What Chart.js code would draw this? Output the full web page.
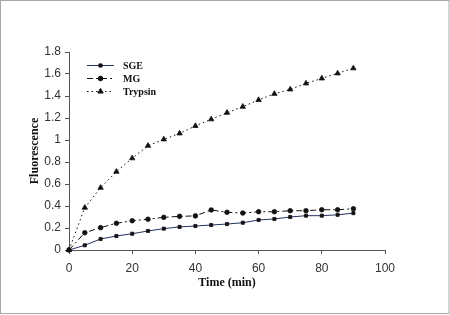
<!DOCTYPE html>
<html>
<head>
<meta charset="utf-8">
<script src="https://cdn.jsdelivr.net/npm/chart.js@4.4.1/dist/chart.umd.min.js"></script>
<style>
html,body{margin:0;padding:0;background:#fff;}
canvas{display:block;}
</style>
</head>
<body>
<canvas id="c" width="450" height="315"></canvas>
<script>
const times = [0,5,10,15,20,25,30,35,40,45,50,55,60,65,70,75,80,85,90];
const sge = [0,0.043,0.10,0.127,0.148,0.173,0.194,0.21,0.218,0.227,0.236,0.248,0.273,0.282,0.30,0.312,0.312,0.32,0.335];
const mg = [0,0.157,0.203,0.243,0.266,0.28,0.297,0.306,0.31,0.364,0.343,0.336,0.348,0.348,0.357,0.357,0.366,0.366,0.375];
const trypsin = [0,0.385,0.566,0.712,0.834,0.948,1.006,1.06,1.128,1.188,1.248,1.303,1.364,1.42,1.46,1.515,1.56,1.606,1.652];
const seriesNames = ['SGE','MG','Trypsin'];
const xTicks = [0,20,40,60,80,100];
const yTicks = [0,0.2,0.4,0.6,0.8,1,1.2,1.4,1.6,1.8];

const pts = arr => arr.map((v,i)=>({x:times[i], y:v}));

const frame = {
  id:'frame',
  beforeDraw(chart){
    const c = chart.ctx;
    c.save();
    c.fillStyle='#fff';
    c.fillRect(0,0,chart.width,chart.height);
    c.strokeStyle='#a8a8a8';
    c.lineWidth=1;
    c.strokeRect(0.5,0.5,chart.width-1.5,chart.height-2);
    c.restore();
  }
};

const innerLegend = {
  id:'innerLegend',
  afterDraw(chart){
    const c = chart.ctx;
    const ys = [65.5,78.5,91.5];
    chart.data.datasets.forEach((ds,i)=>{
      const y = ys[i];
      c.save();
      c.strokeStyle = ds.borderColor;
      c.lineWidth = ds.borderWidth;
      c.setLineDash(ds.borderDash || []);
      c.beginPath(); c.moveTo(87,y); c.lineTo(114,y); c.stroke();
      c.setLineDash([]);
      c.fillStyle = '#111'; c.strokeStyle = '#111';
      Chart.helpers.drawPoint(c, {pointStyle: ds.pointStyle, radius: ds.pointRadius, borderWidth:0.8, rotation:0}, 100.5, y);
      c.fillStyle = '#111';
      c.font = 'bold 10px "Liberation Serif", "Times New Roman", serif';
      c.textBaseline = 'middle';
      c.textAlign = 'left';
      c.fillText(ds.label, 123, y+0.5);
      c.restore();
    });
  }
};

const tickFont = {family:'"Liberation Sans", Arial, sans-serif', size:12};
const titleFont = {family:'"Liberation Serif", "Times New Roman", serif', size:12, weight:'bold'};

new Chart(document.getElementById('c'), {
  type:'line',
  data:{
    datasets:[
      {label:seriesNames[0], data:pts(sge), borderColor:'#27335f', backgroundColor:'#111', pointBackgroundColor:'#111', pointBorderColor:'#111', borderWidth:1, pointStyle:'rect', pointRadius:2.2, pointBorderWidth:0.8, borderDash:[], clip:false},
      {label:seriesNames[1], data:pts(mg), borderColor:'#111', backgroundColor:'#111', pointBackgroundColor:'#111', pointBorderColor:'#111', borderWidth:1, pointStyle:'circle', pointRadius:2.3, pointBorderWidth:0.8, borderDash:[6,3,2,3], clip:false},
      {label:seriesNames[2], data:pts(trypsin), borderColor:'#111', backgroundColor:'#111', pointBackgroundColor:'#111', pointBorderColor:'#111', borderWidth:1, pointStyle:'triangle', pointRadius:3.1, pointBorderWidth:0.8, borderDash:[1.5,3], clip:false}
    ]
  },
  options:{
    responsive:false,
    animation:false,
    devicePixelRatio:1,
    layout:{padding:{left:24, top:52, right:65, bottom:21}},
    plugins:{legend:{display:false}, tooltip:{enabled:false}},
    elements:{line:{tension:0}},
    scales:{
      x:{
        type:'linear', min:0, max:100,
        afterBuildTicks(s){ s.ticks = xTicks.map(v=>({value:v})); },
        afterFit(s){ s.height = 44; },
        grid:{drawOnChartArea:false, drawTicks:true, tickLength:4, color:'#555'},
        border:{color:'#555', width:1},
        ticks:{font:tickFont, color:'#333', padding:7, maxRotation:0},
        title:{display:true, text:'Time (min)', font:titleFont, color:'#111', padding:{top:2,bottom:4}}
      },
      y:{
        type:'linear', min:0, max:1.8,
        afterBuildTicks(s){ s.ticks = yTicks.map(v=>({value:v})); },
        afterFit(s){ s.width = 45; },
        grid:{drawOnChartArea:false, drawTicks:true, tickLength:4, color:'#555'},
        border:{color:'#555', width:1},
        ticks:{font:tickFont, color:'#333', padding:4, callback:v=>String(+Number(v).toFixed(1))},
        title:{display:true, text:'Fluorescence', font:titleFont, color:'#111', padding:{top:4,bottom:4}}
      }
    }
  },
  plugins:[frame, innerLegend]
});
</script>
</body>
</html>
